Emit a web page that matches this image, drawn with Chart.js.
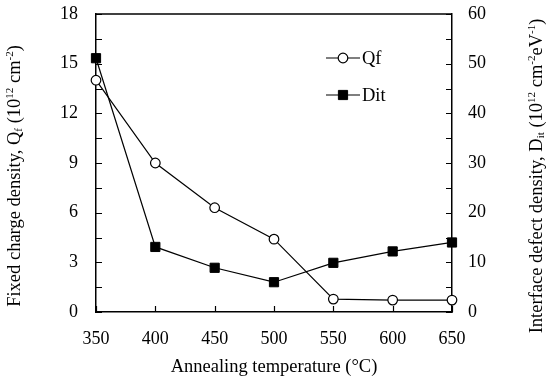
<!DOCTYPE html>
<html>
<head>
<meta charset="utf-8">
<script src="https://cdn.jsdelivr.net/npm/chart.js@4.4.0/dist/chart.umd.min.js"></script>
<style>
  html, body { margin: 0; padding: 0; background: #fff; }
  #box { width: 550px; height: 379px; }
</style>
</head>
<body>
<div id="box"><canvas id="grafico" width="550" height="379"></canvas></div>
<script>
// === DADOS ===
const temperaturas = [350, 400, 450, 500, 550, 600, 650];
const qf = [14.0, 9.0, 6.3, 4.4, 0.78, 0.72, 0.72];
const dit = [51.1, 13.1, 8.9, 6.0, 9.9, 12.2, 14.0];

const FONTE = "'Liberation Serif', 'Times New Roman', serif";
const TAM = 18;
const TAM_TIT = 18.5;

// === PLUGIN: moldura, ticks internos, títulos dos eixos e legenda ===
const extras = {
  id: "extras",
  afterDraw(chart) {
    const ctx = chart.ctx;
    const a = chart.chartArea;
    const sx = chart.scales.x, sy = chart.scales.y, sy1 = chart.scales.y1;
    ctx.save();
    ctx.strokeStyle = "#000";
    ctx.lineWidth = 1.5;
    // linha de cima
    ctx.beginPath();
    ctx.moveTo(a.left, a.top);
    ctx.lineTo(a.right, a.top);
    ctx.stroke();

    ctx.lineWidth = 1.2;
    const L = 6;
    ctx.beginPath();
    // eixo esquerdo: maiores e menores
    for (let v = 0; v <= 18; v += 1.5) {
      const p = Math.round(sy.getPixelForValue(v)) + 0.5;
      ctx.moveTo(a.left, p); ctx.lineTo(a.left + L, p);
    }
    // eixo direito
    for (let v = 0; v <= 60; v += 5) {
      const p = Math.round(sy1.getPixelForValue(v)) + 0.5;
      ctx.moveTo(a.right, p); ctx.lineTo(a.right - L, p);
    }
    // eixo x
    sx.ticks.forEach(t => {
      const p = Math.round(sx.getPixelForValue(t.value)) + 0.5;
      ctx.moveTo(p, a.bottom); ctx.lineTo(p, a.bottom - L);
    });
    ctx.stroke();

    // títulos verticais com sub/sobrescritos
    const tituloEsq = [["Fixed charge density, Q", 0], ["f", 1], [" (10", 0], ["12", 2], [" cm", 0], ["-2", 2], [")", 0]];
    const tituloDir = [["Interface defect density, D", 0], ["it", 1], [" (10", 0], ["12", 2], [" cm", 0], ["-2", 2], ["eV", 0], ["-1", 2], [")", 0]];
    desenhaTitulo(ctx, tituloEsq, 15, 176);
    desenhaTitulo(ctx, tituloDir, 537, 176);

    // legenda
    const lx = a.left + 230, ly = a.top + 44;
    legenda(ctx, lx, ly, "Qf", chart.data.datasets[0]);
    legenda(ctx, lx, ly + 37, "Dit", chart.data.datasets[1]);
    ctx.restore();
  }
};

function fonte(tipo) {
  return (tipo === 0 ? TAM_TIT : 11) + "px " + FONTE;
}

function desenhaTitulo(ctx, partes, x, y) {
  ctx.save();
  let total = 0;
  partes.forEach(([t, tipo]) => { ctx.font = fonte(tipo); total += ctx.measureText(t).width; });
  ctx.translate(x, y);
  ctx.rotate(-Math.PI / 2);
  ctx.fillStyle = "#000";
  ctx.textBaseline = "middle";
  let cx = -total / 2;
  partes.forEach(([t, tipo]) => {
    ctx.font = fonte(tipo);
    const dy = tipo === 1 ? 4 : tipo === 2 ? -5 : 0;
    ctx.fillText(t, cx, dy);
    cx += ctx.measureText(t).width;
  });
  ctx.restore();
}

function legenda(ctx, x, y, texto, ds) {
  ctx.save();
  ctx.strokeStyle = "#000";
  ctx.lineWidth = 1.2;
  ctx.beginPath();
  ctx.moveTo(x, y); ctx.lineTo(x + 34, y);
  ctx.stroke();
  ctx.fillStyle = ds.pointBackgroundColor;
  ctx.strokeStyle = ds.pointBorderColor;
  ctx.lineWidth = ds.pointBorderWidth;
  Chart.helpers.drawPoint(ctx, {
    pointStyle: ds.pointStyle, radius: ds.pointRadius, rotation: 0, borderWidth: ds.pointBorderWidth
  }, x + 17, y);
  ctx.fillStyle = "#000";
  ctx.font = TAM_TIT + "px " + FONTE;
  ctx.textBaseline = "middle";
  ctx.fillText(texto, x + 36, y + 1);
  ctx.restore();
}

// sem folga extra em cima/baixo dos eixos y
function ajustaY(largura) {
  return s => {
    s.width = largura;
    s.paddingTop = 0;
    s.paddingBottom = 0;
  };
}

// === GRÁFICO ===
new Chart(document.getElementById("grafico"), {
  type: "line",
  data: {
    labels: temperaturas,
    datasets: [{
      label: "Qf",
      data: temperaturas.map((t, i) => ({ x: t, y: qf[i] })),
      yAxisID: "y",
      borderColor: "#000",
      borderWidth: 1.2,
      pointStyle: "circle",
      pointRadius: 4.8,
      pointBackgroundColor: "#fff",
      pointBorderColor: "#000",
      pointBorderWidth: 1.2,
      tension: 0,
      clip: false
    }, {
      label: "Dit",
      data: temperaturas.map((t, i) => ({ x: t, y: dit[i] })),
      yAxisID: "y1",
      borderColor: "#000",
      borderWidth: 1.2,
      pointStyle: "rect",
      pointRadius: 6.5,
      pointBackgroundColor: "#000",
      pointBorderColor: "#000",
      pointBorderWidth: 1,
      tension: 0,
      clip: false
    }]
  },
  options: {
    responsive: false,
    animation: false,
    layout: { padding: { top: 14, left: 0, right: 0, bottom: 0 } },
    plugins: { legend: { display: false }, tooltip: { enabled: false } },
    scales: {
      x: {
        type: "linear",
        min: 350, max: 650,
        afterFit: s => { s.height = 67; s.paddingLeft = 0; s.paddingRight = 0; },
        ticks: { stepSize: 50, color: "#000", padding: 16, font: { family: FONTE, size: TAM } },
        grid: { drawOnChartArea: false, drawTicks: false },
        border: { color: "#000", width: 1.5 },
        title: { display: true, text: "Annealing temperature (°C)", color: "#000", padding: { top: 2, bottom: 1 }, font: { family: FONTE, size: TAM_TIT } }
      },
      y: {
        position: "left",
        min: 0, max: 18,
        afterFit: ajustaY(96),
        ticks: { stepSize: 3, color: "#000", padding: 18, font: { family: FONTE, size: TAM } },
        grid: { drawOnChartArea: false, drawTicks: false },
        border: { color: "#000", width: 1.5 }
      },
      y1: {
        position: "right",
        min: 0, max: 60,
        afterFit: ajustaY(98),
        ticks: { stepSize: 10, color: "#000", padding: 16, font: { family: FONTE, size: TAM } },
        grid: { drawOnChartArea: false, drawTicks: false },
        border: { color: "#000", width: 1.5 }
      }
    }
  },
  plugins: [extras]
});
</script>
</body>
</html>
